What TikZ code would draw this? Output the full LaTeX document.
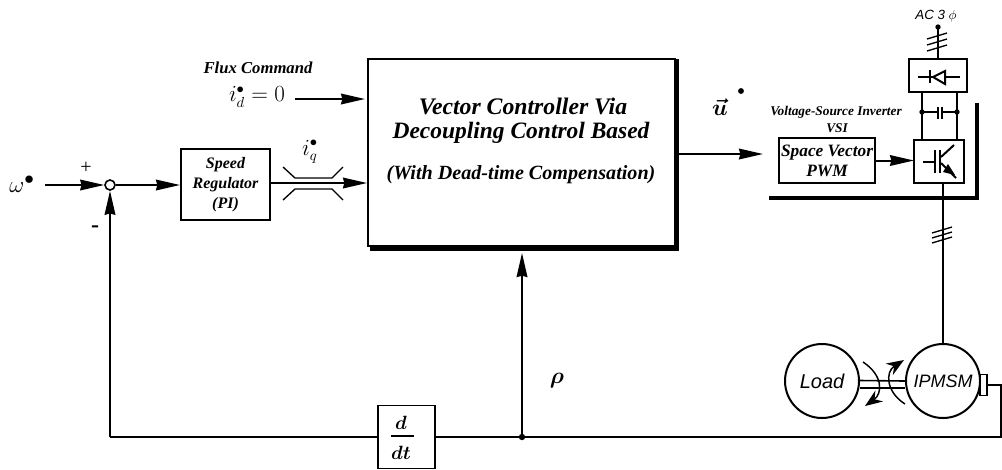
\documentclass[tikz,border=0pt]{standalone}
\usepackage{amsmath}
\usepackage{amssymb}
\usepackage{fontspec}
\setmainfont{Liberation Serif}
\setsansfont{Liberation Sans}
\usepackage{tikz}
\usetikzlibrary{arrows.meta,calc,positioning}
\tikzstyle{edge}  =[line width=1.5pt]
\tikzstyle{flow}  =[edge, -{Stealth[length=18pt, width=8pt, inset=1pt]}]
\tikzstyle{block} =[rectangle, draw, line width=1.2pt, inner sep=0pt,
                    outer sep=0pt, align=center, font=\bfseries\itshape\fontsize{12}{13}\selectfont]
\tikzstyle{wheel} =[circle, draw, line width=1.5pt, inner sep=0pt,
                    minimum size=55.5pt, font=\sffamily\itshape\fontsize{15}{15}\selectfont]
\tikzstyle{label} =[inner sep=1pt, fill=none, draw=none, align=center]
\tikzstyle{hash}  =[line width=1pt]

\begin{document}
\begin{tikzpicture}[x=0.75pt, y=-0.75pt]
            \useasboundingbox (0,0) rectangle (1002,469);
            % controller and its shadow edge
            \node (ctrl) [block, line width=1.6pt, minimum width=230pt, minimum height=140pt] at (521.5,152.5) {};
            \draw [line width=3pt] ($(ctrl.south west)+(2,3)$) -- ($(ctrl.south east)+(2,3)$) -- ($(ctrl.north east)+(2,0)$);
            \node (ctrlA) [label, font=\bfseries\itshape\fontsize{17.8}{18}\selectfont] at (523,106) {Vector Controller Via};
            \node (ctrlB) [label, font=\bfseries\itshape\fontsize{17.6}{18}\selectfont] at (521,133) {Decoupling Control Based};
            \node (ctrlC) [label, font=\bfseries\itshape\fontsize{15.1}{16}\selectfont] at (521,175) {(With Dead-time Compensation)};
            % speed loop
            \node (wref) [label, font=\fontsize{19}{19}\selectfont] at (22,184) {$\omega^{\bullet}$};
            \node (sum) [circle, draw, line width=1.2pt, minimum size=7.5pt, inner sep=0pt] at (110,185) {};
            \node (plus) [label, font=\fontsize{15}{15}\selectfont] at (86,168) {+};
            \node (minus) [label, font=\bfseries\fontsize{18}{18}\selectfont] at (95,229) {-};
            \node (reg) [block, minimum width=66.5pt, minimum height=53pt] at (225.5,184.5) {Speed\\[2pt]Regulator\\[2pt](PI)};
            \node (iq) [label, font=\fontsize{16}{16}\selectfont] at (310,152) {$i_q^{\bullet}$};
            \node (flux) [label, font=\bfseries\itshape\fontsize{12.5}{13}\selectfont] at (258,68) {Flux Command};
            \node (id) [label, font=\fontsize{16}{16}\selectfont] at (257,97) {$i_d^{\bullet}=0$};
            \node (ddt) [block, minimum width=42.75pt, minimum height=47pt] at (406.5,437) {};
            \node (ddtT) [label, font=\fontsize{14}{14}\selectfont] at (401,423) {$\boldsymbol{d}$};
            \node (ddtB) [label, font=\fontsize{14}{14}\selectfont] at (401,453) {$\boldsymbol{dt}$};
            \draw [line width=0.9pt] (391,436) -- (414,436);
            \node (rho) [label, font=\fontsize{17}{17}\selectfont] at (557,381) {$\boldsymbol{\rho}$};
            \coordinate (wout) at (45,185);
            \coordinate (idout) at (295,99);
            \coordinate (idin) at (365,99);
            \coordinate (fbk) at (110,437);
            \coordinate (tap) at (522,437);
            \coordinate (tapin) at (522,253);
            \coordinate (regin) at (180,185);
            \coordinate (iqin) at (367,183);
            \draw [flow] (wout) -- (sum.west);
            \draw [flow] (sum.east) -- (regin);
            \draw [flow] (idout) -- (idin);
            \draw [flow] (reg.east |- iqin) -- (iqin);
            \draw [flow] (fbk) -- (sum.south);
            \draw [edge] (fbk) -- (ddt.west);
            \draw [flow] (tap) -- (tapin);
            \fill (tap) circle (2.4pt);
            % split lines round the q current
            \draw [hash] (283,167) -- (295,178) -- (332,178) -- (343,167);
            \draw [hash] (283,200) -- (295,189) -- (332,189) -- (343,200);
            % inverter part
            \node (u) [label, font=\fontsize{18}{18}\selectfont] at (720,107) {$\boldsymbol{\vec{u}}$};
            \fill (741,91) circle (2.2pt);
            \node (vsi) [label, font=\bfseries\itshape\fontsize{10}{11}\selectfont] at (836,112) {Voltage-Source Inverter};
            \node (vsiB) [label, font=\bfseries\itshape\fontsize{10}{11}\selectfont] at (837,128) {VSI};
            \node (pwm) [block, minimum width=72pt, minimum height=34pt, font=\bfseries\itshape\fontsize{13}{15}\selectfont] at (827,160.5) {Space Vector\\PWM};
            \node (igbt) [block, minimum width=37.5pt, minimum height=32pt] at (939,161.5) {};
            \node (rect) [block, minimum width=43.5pt, minimum height=25pt] at (938,75.5) {};
            \node (ac) [label, font=\sffamily\itshape\fontsize{10}{10}\selectfont] at (936,16) {AC 3 $\phi$};
            \coordinate (acin) at (938,27);
            \fill (acin) circle (2pt);
            \draw [edge] (acin) -- (rect.north);
            \draw [hash] (927,39) -- (947,33);
            \draw [hash] (927,45) -- (947,39);
            \draw [hash] (927,51) -- (947,45);
            \coordinate (ctrlout) at (679,154);
            \coordinate (pwmin) at (763,154);
            \draw [flow] (ctrlout) -- (pwmin);
            \draw [flow] (pwm.east) -- (pwm.east -| igbt.west);
            % dc link
            \coordinate (dcA) at (922,112);
            \coordinate (dcB) at (957,112);
            \draw [edge] (922,92) -- (dcA) -- (922,140);
            \draw [edge] (957,92) -- (dcB) -- (957,140);
            \fill (dcA) circle (2pt);
            \fill (dcB) circle (2pt);
            \draw [edge] (dcA) -- (938,112);
            \draw [edge] (942,112) -- (dcB);
            \draw [line width=1.8pt] (938,107) -- (938,119);
            \draw [line width=1.8pt] (942,107) -- (942,119);
            % rectifier symbol
            \draw [edge] (918,77) -- (933,77);
            \draw [edge] (945,77) -- (960,77);
            \draw [edge] (930,70) -- (930,83);
            \draw [edge] (945,71) -- (933,77) -- (945,84) -- cycle;
            % igbt symbol
            \draw [edge] (923,162) -- (935,162);
            \draw [edge] (935,150) -- (935,173);
            \draw [edge] (940,150) -- (940,173);
            \draw [edge] (941,157) -- (954,145);
            \draw [edge] (941,163) -- (956,178);
            \fill (948,164) -- (955,175) -- (943,172) -- cycle;
            % thick corner
            \draw [line width=3.2pt, line join=miter] (769,198) -- (977,198) -- (977,103);
            % machines
            \node (load) [wheel] at (822,381) {Load};
            \node (pmsm) [wheel, font=\sffamily\itshape\fontsize{13.5}{14}\selectfont] at (943,381) {IPMSM};
            \node (enc) [rectangle, draw, line width=1.2pt, minimum width=5pt, minimum height=16pt, inner sep=0pt, right=27.3pt of pmsm.center, yshift=-3pt] {};
            \draw [line width=1.2pt] (load.east) ++(0,-0.5) -- (pmsm.west);
            \draw [line width=1.2pt] ($(load.east)+(0,7)$) -- ($(pmsm.west)+(0,7)$);
            \draw [edge] (pmsm.north) -- (pmsm.north |- igbt.south);
            \draw [hash] (932,233) -- (952,227);
            \draw [hash] (932,238) -- (952,232);
            \draw [hash] (932,243) -- (952,237);
            \coordinate (corner) at (1001,385);
            \draw [edge] (enc.east) -- (corner) -- (1001,437) -- (ddt.east);
            % rotation arrows
            \draw [line width=1.1pt, -{Stealth[length=13pt, width=10pt]}] (863,362) .. controls (884,376) and (882,394) .. (865,406);
            \draw [line width=1.1pt, -{Stealth[length=13pt, width=10pt]}] (905,404) .. controls (886,392) and (885,372) .. (904,360);
\end{tikzpicture}
\end{document}
